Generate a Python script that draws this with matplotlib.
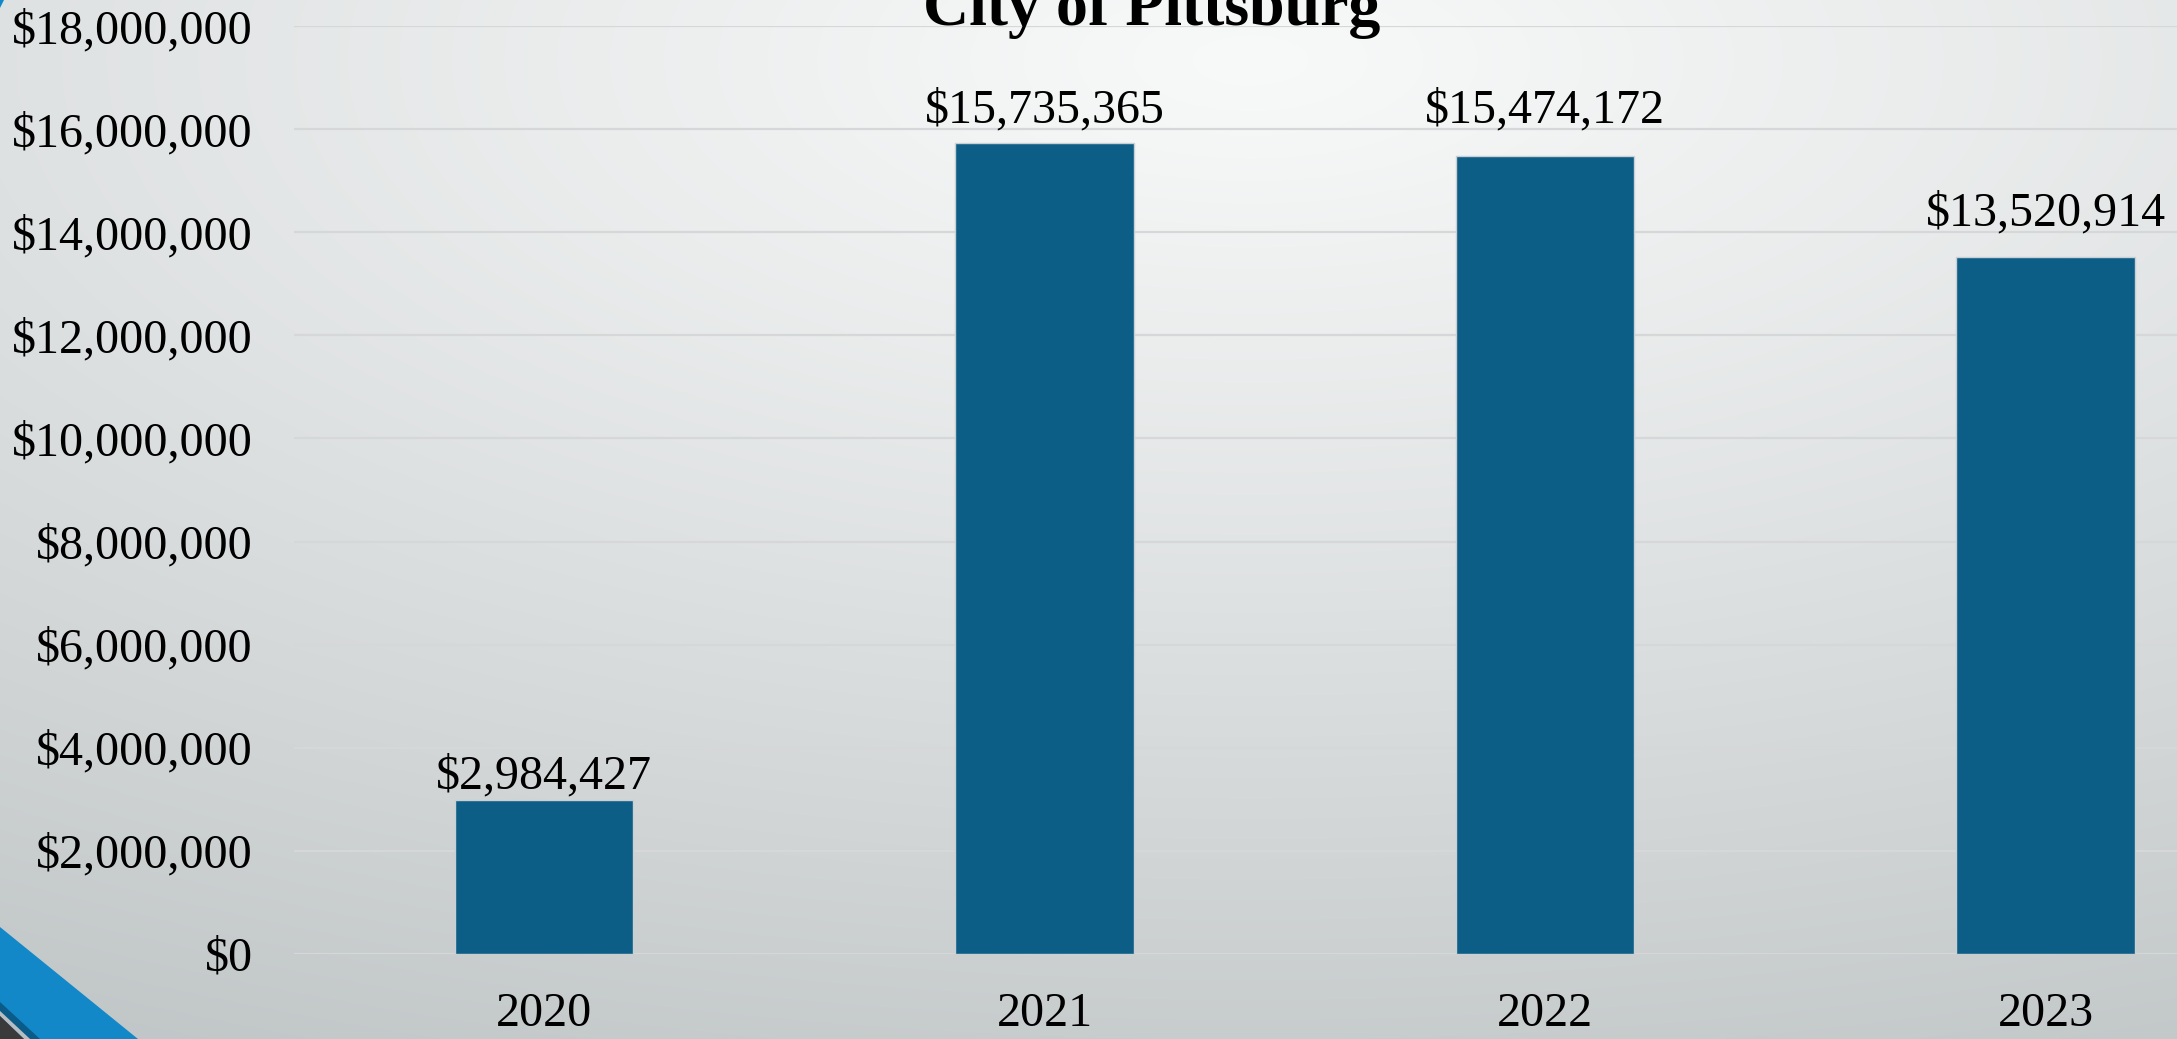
import numpy as np
import matplotlib.pyplot as plt
from matplotlib.patches import Polygon
from matplotlib.ticker import FuncFormatter

# data
years = ["2020", "2021", "2022", "2023"]
amounts = [2984427, 15735365, 15474172, 13520914]

# label offsets above each bar (points)
label_pad = [8.6, 14.4, 24.5, 23.0]

W, H = 2177, 1039
plt.rcParams['font.family'] = ['Liberation Serif', 'DejaVu Serif']

fig = plt.figure(figsize=(W / 100, H / 100), dpi=100)

# slide background: soft grey gradient, lightest near the top middle
bg = fig.add_axes([0, 0, 1, 1])
yy, xx = np.mgrid[0:H, 0:W]
r = np.sqrt(((xx - 1250) / 2500.0) ** 2 + ((yy - 60) / 1080.0) ** 2)
t = np.clip(r, 0, 1) ** 1.1
light = np.array([0.972, 0.976, 0.976])
dark = np.array([0.760, 0.780, 0.785])
img = light[None, None, :] * (1 - t[..., None]) + dark[None, None, :] * t[..., None]
bg.imshow(img, extent=(0, W, H, 0), aspect='auto', interpolation='bilinear')
bg.set_xlim(0, W)
bg.set_ylim(H, 0)
bg.axis('off')

# corner accents
bg.add_patch(Polygon([(0, 927), (138, H), (0, H)], closed=True, color='#1288c8', lw=0))
bg.add_patch(Polygon([(0, 1002), (40, H), (30, H), (0, 1011)], closed=True, color='#0b5b88', lw=0))
bg.add_patch(Polygon([(0, 1011), (30, H), (24, H), (0, 1016)], closed=True, color='#b9bdbf', lw=0))
bg.add_patch(Polygon([(0, 1016), (24, H), (0, H)], closed=True, color='#3a3a3a', lw=0))
bg.add_patch(Polygon([(0, 0), (4, 0), (0, 8)], closed=True, color='#1288c8', lw=0))

# chart area
ax = fig.add_axes([293.75 / W, (H - 954) / H, 2002 / W, (954 - 26) / H])
ax.patch.set_alpha(0)
x = np.arange(len(years))
bars = ax.bar(x, amounts, width=0.356, color='#0d5e87', edgecolor='#c8d0d4',
              linewidth=1.0, zorder=3)

ax.set_xlim(-0.5, len(years) - 0.5)
ax.set_ylim(0, 18000000)
ax.set_yticks(np.arange(0, 18000001, 2000000))
ax.yaxis.set_major_formatter(FuncFormatter(lambda v, p: f"${v:,.0f}"))
ax.set_xticks(x)
ax.set_xticklabels(years)

ax.grid(axis='y', color='#d6d7d8', linewidth=1.6, zorder=0)
ax.set_axisbelow(True)
for s in ax.spines.values():
    s.set_visible(False)
ax.tick_params(axis='y', length=0, pad=29.5, labelsize=34.6, labelcolor='black')
ax.tick_params(axis='x', length=0, pad=27, labelsize=34.6, labelcolor='black')

for xi, val, pad in zip(x, amounts, label_pad):
    ax.annotate(f"${val:,}", (xi, val), xytext=(0, pad), textcoords='offset points',
                ha='center', va='baseline', fontsize=34.6, color='black', zorder=4)

fig.text(1152 / W, (H - 25) / H, "City of Pittsburg", ha='center', va='baseline',
         fontsize=46, fontweight='bold', color='black')

fig.savefig("out.png", dpi=100)
